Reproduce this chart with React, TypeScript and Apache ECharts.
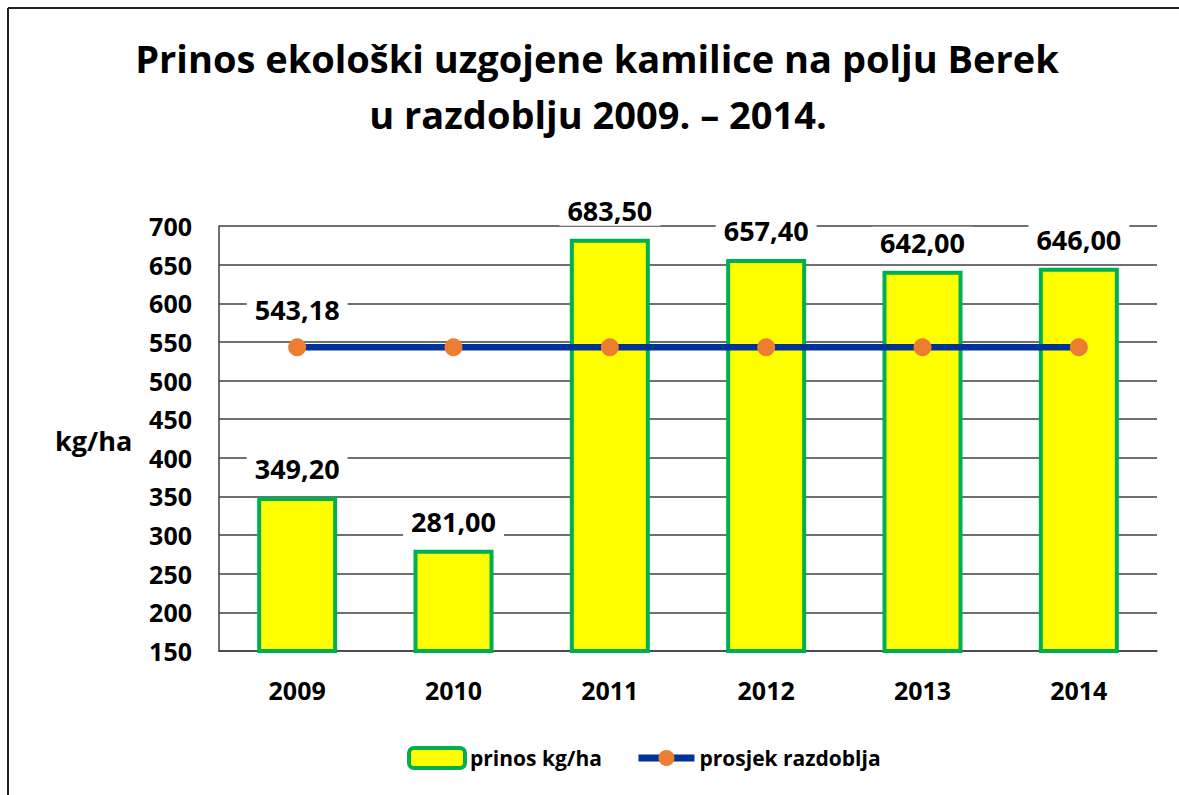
import React, { useEffect, useRef } from "react";
import * as echarts from "echarts";

const years = ["2009", "2010", "2011", "2012", "2013", "2014"];
const yieldValues = [349.2, 281.0, 683.5, 657.4, 642.0, 646.0];
const averageValues = [543.18, 543.18, 543.18, 543.18, 543.18, 543.18];
const titleLines = ["Prinos ekološki uzgojene kamilice na polju Berek", "u razdoblju 2009. – 2014."];
const yAxisName = "kg/ha";
const seriesNames = ["prinos kg/ha", "prosjek razdoblja"];

const FONT = "'Open Sans', 'DejaVu Sans', sans-serif";
const fmt = (v: number) => v.toFixed(2).replace(".", ",");

export default function App() {
  const ref = useRef<HTMLDivElement>(null);
  useEffect(() => {
    if (!ref.current) return;
    const chart = echarts.init(ref.current, null, { renderer: "svg" });
    const labelStyle = {
      fontSize: 27, fontWeight: "bold", color: "#000", fontFamily: FONT,
      backgroundColor: "#fff", padding: [2, 8],
    };
    chart.setOption({
      animation: false,
      backgroundColor: "#ffffff",
      textStyle: { fontFamily: FONT },
      graphic: [
        { type: "line", shape: { x1: 8, y1: 8, x2: 1179, y2: 8 }, style: { stroke: "#222", lineWidth: 2 } },
        { type: "line", shape: { x1: 8, y1: 8, x2: 8, y2: 795 }, style: { stroke: "#222", lineWidth: 2 } },
        {
          type: "text", x: 597, y: 58,
          style: { text: titleLines[0], fill: "#000", font: `bold 38px ${FONT}`, textAlign: "center", textVerticalAlign: "middle" },
        },
        {
          type: "text", x: 598, y: 114,
          style: { text: titleLines[1], fill: "#000", font: `bold 38px ${FONT}`, textAlign: "center", textVerticalAlign: "middle" },
        },
        {
          type: "text", x: 55, y: 440,
          style: { text: yAxisName, fill: "#000", font: `bold 27px ${FONT}`, textAlign: "left", textVerticalAlign: "middle" },
        },
      ],
      grid: { left: 219, right: 22, top: 226, bottom: 144 },
      legend: {
        left: 407, top: 746, padding: 0,
        itemWidth: 56, itemHeight: 20, itemGap: 33,
        textStyle: { fontSize: 21, fontWeight: "bold", color: "#000", fontFamily: FONT },
        data: [
          { name: seriesNames[0], itemStyle: { borderWidth: 4, borderColor: "#00B050" } },
          { name: seriesNames[1], lineStyle: { width: 7 } },
        ],
      },
      xAxis: {
        type: "category",
        data: years,
        axisLine: { show: true, lineStyle: { color: "#404040", width: 1.5 } },
        axisTick: { show: false },
        axisLabel: { margin: 26, fontSize: 25, fontWeight: "bold", color: "#000", fontFamily: FONT },
      },
      yAxis: {
        type: "value",
        min: 150, max: 700, interval: 50,
        axisLine: { show: true, lineStyle: { color: "#404040", width: 1.5 } },
        axisTick: { show: false },
        splitLine: { show: true, lineStyle: { color: "#404040", width: 1.5 } },
        axisLabel: { margin: 27, fontSize: 25, fontWeight: "bold", color: "#000", fontFamily: FONT },
      },
      series: [
        {
          name: seriesNames[0],
          type: "bar",
          data: yieldValues,
          barWidth: 80,
          itemStyle: { color: "#FFFF00", borderColor: "#00B050", borderWidth: 4 },
          label: {
            show: true, position: "top", distance: 13,
            formatter: (p: any) => fmt(p.value),
            ...labelStyle,
          },
          z: 2,
        },
        {
          name: seriesNames[1],
          type: "line",
          data: averageValues.map((v, i) =>
            i === 0
              ? {
                  value: v,
                  label: {
                    show: true, position: "top", distance: 13,
                    formatter: (p: any) => fmt(p.value),
                    ...labelStyle,
                  },
                }
              : v
          ),
          symbol: "circle",
          symbolSize: 18,
          lineStyle: { color: "#003399", width: 6.5 },
          itemStyle: { color: "#ED7D31" },
          z: 3,
        },
      ],
    });
    return () => chart.dispose();
  }, []);
  return <div ref={ref} style={{ position: "fixed", left: 0, top: 0, width: 1179, height: 795 }} />;
}
